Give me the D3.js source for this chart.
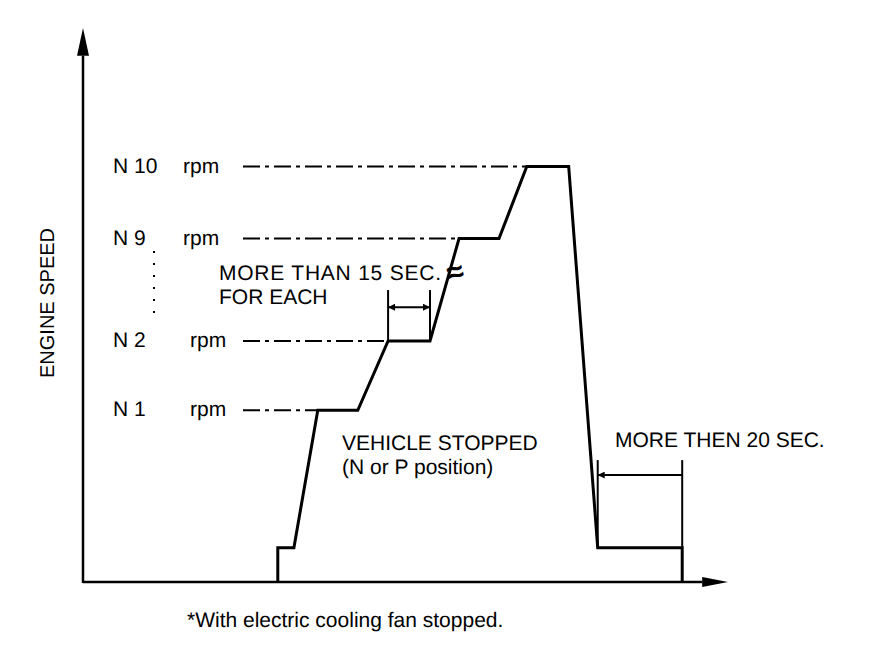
<!DOCTYPE html>
<html>
<head>
<meta charset="utf-8">
<script src="https://cdn.jsdelivr.net/npm/d3@7"></script>
<style>
  body { margin: 0; background: #fff; }
  svg text { font-family: "Liberation Sans", Arial, sans-serif; fill: #000; text-rendering: geometricPrecision; }
</style>
</head>
<body>
<svg id="svg" width="896" height="662"></svg>
<script>
// time (arbitrary units 0..100) and engine speed (0..100) of the test profile
const profileTime  = [30.2, 30.2, 32.7, 36.4, 42.6, 47.3, 53.8, 58.3, 64.5, 68.8, 75.3, 79.8, 92.9, 92.9];
const profileSpeed = [0, 6.2, 6.2, 31, 31, 43.5, 43.5, 62, 62, 75, 75, 6.2, 6.2, 0];

// speed levels with their labels and where the plateau starts
const levelNames = ["N 10", "N 9", "N 2", "N 1"];
const levelSpeed = [75, 62, 43.5, 31];
const levelStart = [68.8, 58.3, 47.3, 36.4];
const rpmOffset  = [0, 0, 7, 7];

// dimension markers: [from, to] time, extension top, arrow height
const dim15 = { t: [47.3, 53.8], top: 52.7, arrow: 49.6 };
const dim20 = { t: [79.8, 92.9], top: 22, arrow: 19.3 };

const svg = d3.select('#svg');
const x = d3.scaleLinear().domain([0, 100]).range([83, 728]);
const y = d3.scaleLinear().domain([0, 100]).range([582, 28]);
const fs = 21;

const defs = svg.append('defs');
defs.append('marker').attr('id', 'ah')
  .attr('viewBox', '0 0 10 10').attr('refX', 10).attr('refY', 5)
  .attr('markerWidth', 12).attr('markerHeight', 7).attr('markerUnits', 'userSpaceOnUse')
  .attr('orient', 'auto-start-reverse')
  .append('path').attr('d', 'M0,0 L10,5 L0,10 Z').attr('fill', '#000');

// axes
svg.append('line').attr('x1', x(0)).attr('x2', x(0)).attr('y1', y(0) + 1).attr('y2', y(95))
  .attr('stroke', '#000').attr('stroke-width', 2.5);
svg.append('path')
  .attr('d', `M${x(0)},${y(100)} L${x(0) - 6},${y(95)} L${x(0) + 6},${y(95)} Z`).attr('fill', '#000');
svg.append('line').attr('x1', x(0)).attr('x2', x(96)).attr('y1', y(0)).attr('y2', y(0))
  .attr('stroke', '#000').attr('stroke-width', 2.5);
svg.append('path')
  .attr('d', `M${x(100)},${y(0)} L${x(96)},${y(0) - 5} L${x(96)},${y(0) + 5} Z`).attr('fill', '#000');

svg.append('text').attr('transform', `translate(54,${303}) rotate(-90)`)
  .attr('text-anchor', 'middle').attr('font-size', 20).attr('fill', '#000').text('ENGINE SPEED');

// level labels and dash-dot guides
levelNames.forEach((n, i) => {
  const yy = y(levelSpeed[i]);
  svg.append('text').attr('x', 113).attr('y', yy + 6).attr('font-size', fs).text(n);
  svg.append('text').attr('x', 183 + rpmOffset[i]).attr('y', yy + 6).attr('font-size', fs).text('rpm');
  svg.append('line').attr('x1', 243).attr('x2', x(levelStart[i])).attr('y1', yy).attr('y2', yy)
    .attr('stroke', '#000').attr('stroke-width', 2).attr('stroke-dasharray', '17,5,4,5');
});

// dotted ellipsis between N 9 and N 2
svg.selectAll('.dot').data(d3.range(6)).enter().append('rect')
  .attr('x', 153).attr('y', d => 251 + d * 12).attr('width', 2).attr('height', 2).attr('fill', '#000');

// speed profile
svg.append('path')
  .datum(profileTime.map((t, i) => [t, profileSpeed[i]]))
  .attr('fill', 'none').attr('stroke', '#000').attr('stroke-width', 3).attr('stroke-linejoin', 'miter')
  .attr('d', d3.line().x(d => x(d[0])).y(d => y(d[1])));

// break symbol on N2 -> N9 ramp
svg.append('text').attr('x', 455).attr('y', 282).attr('text-anchor', 'middle')
  .attr('font-size', 30).attr('font-weight', 'bold')
  .attr('transform', 'rotate(-15,455,272)').text('≈');

// 15 sec dimension
dim15.t.forEach(t => {
  svg.append('line').attr('x1', x(t)).attr('x2', x(t)).attr('y1', y(dim15.top)).attr('y2', y(43.5))
    .attr('stroke', '#000').attr('stroke-width', 2);
});
svg.append('line').attr('x1', x(dim15.t[0])).attr('x2', x(dim15.t[1]))
  .attr('y1', y(dim15.arrow)).attr('y2', y(dim15.arrow))
  .attr('stroke', '#000').attr('stroke-width', 2)
  .attr('marker-start', 'url(#ah)').attr('marker-end', 'url(#ah)');

svg.append('text').attr('x', 219).attr('y', 280).attr('font-size', fs)
  .attr('textLength', 222).text('MORE THAN 15 SEC.');
svg.append('text').attr('x', 219).attr('y', 304).attr('font-size', fs).text('FOR EACH');

// 20 sec dimension
svg.append('line').attr('x1', x(dim20.t[0])).attr('x2', x(dim20.t[0])).attr('y1', y(dim20.top)).attr('y2', y(6.2))
  .attr('stroke', '#000').attr('stroke-width', 2);
svg.append('line').attr('x1', x(dim20.t[1])).attr('x2', x(dim20.t[1])).attr('y1', y(dim20.top)).attr('y2', y(6.2))
  .attr('stroke', '#000').attr('stroke-width', 2);
svg.append('line').attr('x1', x(dim20.t[1])).attr('x2', x(dim20.t[0]))
  .attr('y1', y(dim20.arrow)).attr('y2', y(dim20.arrow))
  .attr('stroke', '#000').attr('stroke-width', 2).attr('marker-end', 'url(#ah)');

svg.append('text').attr('x', 615).attr('y', 447).attr('font-size', fs).text('MORE THEN 20 SEC.');

svg.append('text').attr('x', 342).attr('y', 450).attr('font-size', fs).text('VEHICLE STOPPED');
svg.append('text').attr('x', 342).attr('y', 474).attr('font-size', fs).text('(N or P position)');

svg.append('text').attr('x', 187).attr('y', 627).attr('font-size', fs).text('*With electric cooling fan stopped.');
</script>
</body>
</html>
